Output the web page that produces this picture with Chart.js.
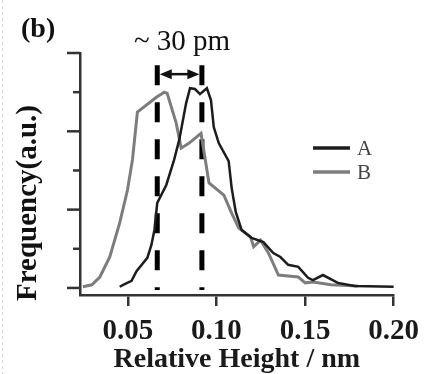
<!DOCTYPE html>
<html>
<head>
<meta charset="utf-8">
<script src="https://cdn.jsdelivr.net/npm/chart.js@4.4.0/dist/chart.umd.min.js"></script>
<style>
    html, body { margin: 0; padding: 0; background: #fff; }
    #chart-area { display: block; }
</style>
</head>
<body>
<canvas id="chart-area" width="427" height="374"></canvas>
<script>
// relative height (nm) / frequency (a.u.)
var heightA = [0.0454, 0.0482, 0.0521, 0.0549, 0.0610, 0.0633, 0.0650, 0.0666, 0.0717, 0.0761, 0.0790, 0.0829, 0.0851, 0.0879, 0.0907, 0.0946, 0.0969, 0.0985, 0.1013, 0.1069, 0.1086, 0.1109, 0.1142, 0.1198, 0.1265, 0.1321, 0.1361, 0.1405, 0.1462, 0.1517, 0.1545, 0.1601, 0.1685, 0.1780, 0.2000];
var freqA = [0.03, 0.10, 0.18, 0.43, 0.77, 1.10, 1.48, 2.17, 2.63, 3.27, 3.78, 4.72, 5.10, 5.08, 4.95, 5.10, 4.80, 4.11, 3.70, 3.24, 2.55, 1.94, 1.48, 1.28, 1.17, 0.89, 0.79, 0.59, 0.54, 0.26, 0.20, 0.33, 0.13, 0.05, 0.03];

var heightB = [0.0246, 0.0297, 0.0342, 0.0398, 0.0454, 0.0498, 0.0526, 0.0554, 0.0661, 0.0706, 0.0722, 0.0773, 0.0801, 0.0846, 0.0913, 0.0958, 0.1042, 0.1086, 0.1126, 0.1193, 0.1210, 0.1249, 0.1294, 0.1350, 0.1462, 0.1501, 0.1546, 0.1646, 0.1798];
var freqB = [0.03, 0.08, 0.28, 0.79, 1.66, 2.50, 3.27, 4.49, 4.87, 5.00, 4.97, 4.21, 3.57, 3.70, 3.95, 2.68, 2.37, 1.91, 1.53, 1.30, 1.05, 1.22, 0.89, 0.33, 0.28, 0.13, 0.15, 0.08, 0.05];

var seriesLabels = ['A', 'B'];
var xTicks = [0.05, 0.10, 0.15, 0.20];
var yTicks = [0, 1, 2, 3, 4, 5, 6];

// the two peak positions marked with dashed lines
var peakX = [0.0666, 0.0918];
var peakTop = 5.69;
var arrowY = 5.46;

var xTitle = 'Relative Height / nm';
var yTitle = 'Frequency(a.u.)';
var panelLabel = '(b)';
var gapLabel = '~ 30 pm';

var serif = "'Liberation Serif', 'Times New Roman', serif";

function toPoints(xs, ys) {
    var pts = [];
    for (var i = 0; i < xs.length; i++) {
        pts.push({ x: xs[i], y: ys[i] });
    }
    return pts;
}

var overlay = {
    id: 'overlay',
    afterDraw: function (chart) {
        var ctx = chart.ctx;
        var area = chart.chartArea;
        var xs = chart.scales.x, ys = chart.scales.y;
        ctx.save();

        // y ticks, long on even values
        ctx.strokeStyle = '#333';
        ctx.lineWidth = 2.5;
        for (var i = 0; i < yTicks.length; i++) {
            var py = ys.getPixelForValue(yTicks[i]);
            var len = yTicks[i] % 2 == 0 ? 13 : 7;
            ctx.beginPath();
            ctx.moveTo(area.left - len, py);
            ctx.lineTo(area.left, py);
            ctx.stroke();
        }

        // double arrow between the peaks
        var x1 = xs.getPixelForValue(peakX[0]) + 2.5;
        var x2 = xs.getPixelForValue(peakX[1]) - 2.5;
        var ay = ys.getPixelForValue(arrowY);
        ctx.strokeStyle = '#111';
        ctx.fillStyle = '#111';
        ctx.lineWidth = 2.5;
        ctx.beginPath();
        ctx.moveTo(x1 + 8, ay);
        ctx.lineTo(x2 - 8, ay);
        ctx.stroke();
        ctx.beginPath();
        ctx.moveTo(x1, ay); ctx.lineTo(x1 + 12, ay - 5); ctx.lineTo(x1 + 12, ay + 5); ctx.closePath();
        ctx.fill();
        ctx.beginPath();
        ctx.moveTo(x2, ay); ctx.lineTo(x2 - 12, ay - 5); ctx.lineTo(x2 - 12, ay + 5); ctx.closePath();
        ctx.fill();

        // legend
        var ds = chart.data.datasets;
        ctx.font = '21px ' + serif;
        ctx.textBaseline = 'alphabetic';
        ctx.textAlign = 'left';
        for (var j = 0; j < 2; j++) {
            var ly = 148 + j * 24;
            ctx.strokeStyle = ds[j].borderColor;
            ctx.lineWidth = 3.5;
            ctx.beginPath();
            ctx.moveTo(313, ly);
            ctx.lineTo(350, ly);
            ctx.stroke();
            ctx.fillStyle = '#444';
            ctx.fillText(ds[j].label, 357, ly + 7);
        }

        // labels
        ctx.fillStyle = '#111';
        ctx.font = 'bold 28px ' + serif;
        ctx.fillText(panelLabel, 21, 37);

        ctx.font = '29px ' + serif;
        ctx.textAlign = 'center';
        ctx.fillText(gapLabel, 182, 50);

        ctx.save();
        ctx.translate(29, 203);
        ctx.rotate(-Math.PI / 2);
        ctx.font = 'bold 29px ' + serif;
        ctx.textBaseline = 'middle';
        ctx.fillText(yTitle, 0, 0);
        ctx.restore();

        // faint page edge
        ctx.strokeStyle = '#d8d8d8';
        ctx.lineWidth = 1;
        ctx.setLineDash([3, 3]);
        ctx.beginPath();
        ctx.moveTo(2.5, 0);
        ctx.lineTo(2.5, 374);
        ctx.stroke();

        ctx.restore();
    }
};

window.onload = function () {
    var config = {
        type: 'line',
        data: {
            datasets: [{
                label: seriesLabels[0],
                data: toPoints(heightA, freqA),
                borderColor: '#1c1c1c',
                borderWidth: 2.5,
                pointRadius: 0,
                tension: 0,
                clip: false
            }, {
                label: seriesLabels[1],
                data: toPoints(heightB, freqB),
                borderColor: '#7d7d7d',
                borderWidth: 3,
                pointRadius: 0,
                tension: 0,
                clip: false
            }, {
                label: 'peak1',
                data: [{ x: peakX[0], y: peakTop }, { x: peakX[0], y: -0.05 }],
                borderColor: '#000',
                borderWidth: 5,
                borderDash: [20, 17],
                borderCapStyle: 'butt',
                pointRadius: 0
            }, {
                label: 'peak2',
                data: [{ x: peakX[1], y: peakTop }, { x: peakX[1], y: -0.05 }],
                borderColor: '#000',
                borderWidth: 5,
                borderDash: [20, 17],
                borderCapStyle: 'butt',
                pointRadius: 0
            }]
        },
        options: {
            responsive: false,
            animation: false,
            events: [],
            layout: { padding: { left: 0, top: 53, right: 31, bottom: 0 } },
            plugins: {
                legend: { display: false },
                tooltip: { enabled: false }
            },
            scales: {
                x: {
                    type: 'linear',
                    min: 0.023,
                    max: 0.20,
                    afterBuildTicks: function (scale) {
                        scale.ticks = xTicks.map(function (v) { return { value: v }; });
                    },
                    afterFit: function (scale) { scale.height = 79; },
                    grid: { drawOnChartArea: false, drawTicks: true, tickLength: 11, color: '#333', lineWidth: 2.5 },
                    border: { display: true, color: '#333', width: 2.5 },
                    ticks: {
                        padding: 8,
                        color: '#1a1a1a',
                        font: { family: serif, size: 29, weight: 'bold' },
                        callback: function (v) { return v.toFixed(2); }
                    },
                    title: {
                        display: true,
                        text: xTitle,
                        color: '#1a1a1a',
                        padding: { top: 0, bottom: 0 },
                        font: { family: serif, size: 28, weight: 'bold', lineHeight: 1.0 }
                    }
                },
                y: {
                    type: 'linear',
                    min: -0.18,
                    max: 6,
                    afterBuildTicks: function (scale) {
                        scale.ticks = yTicks.map(function (v) { return { value: v }; });
                    },
                    afterFit: function (scale) { scale.width = 80; },
                    grid: { display: false },
                    border: { display: true, color: '#333', width: 2.5 },
                    ticks: { display: false }
                }
            }
        },
        plugins: [overlay]
    };
    var ctx = document.getElementById('chart-area').getContext('2d');
    new Chart(ctx, config);
};
</script>
</body>
</html>
